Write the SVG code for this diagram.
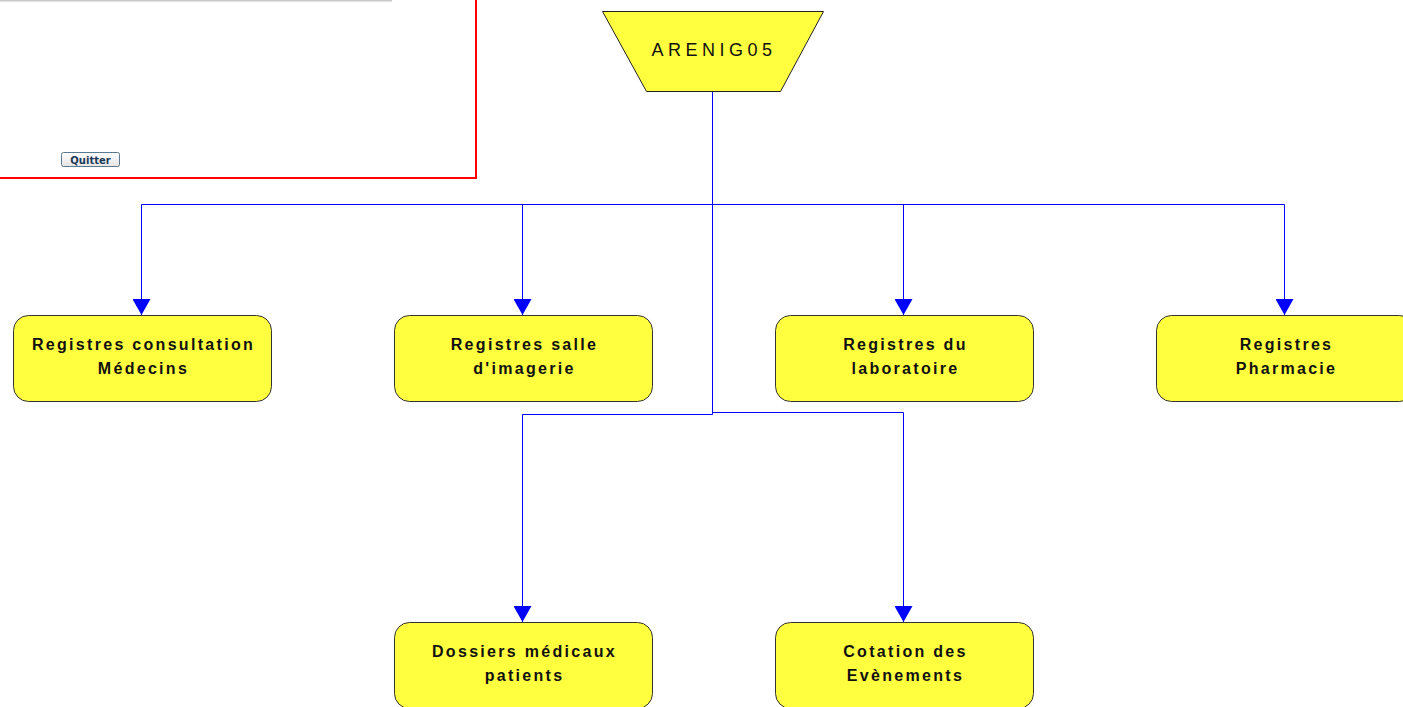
<svg xmlns="http://www.w3.org/2000/svg" width="1403" height="707" viewBox="0 0 1403 707">
<style>
.box{fill:#ffff40;stroke:#333;stroke-width:1}
.lbl{font-family:"Liberation Sans",Arial,sans-serif;font-weight:bold;font-size:16px;letter-spacing:2.3px;fill:#111;text-anchor:middle}
.conn{fill:none;stroke:#0000ff;stroke-width:1}
</style>
<defs>
<marker id="arr" viewBox="0 0 18 16" refX="9" refY="16" markerWidth="18" markerHeight="16" markerUnits="userSpaceOnUse" orient="0">
<path d="M0,0 L18,0 L9,16 Z" fill="#0000ff"/>
</marker>
<linearGradient id="btn" x1="0" y1="0" x2="0" y2="1">
<stop offset="0" stop-color="#ffffff"/>
<stop offset="1" stop-color="#e4e4e4"/>
</linearGradient>
</defs>
<rect width="1403" height="707" fill="#ffffff"/>
<g id="panel">
<line x1="0" y1="0.5" x2="392" y2="0.5" stroke="#c8c8c8" stroke-width="2"/>
<rect x="-10" y="-10" width="486" height="188" fill="none" stroke="#ff0000" stroke-width="2"/>
<rect x="61.5" y="152.5" width="58" height="14" rx="2" fill="url(#btn)" stroke="#5a7890" stroke-width="1"/>
<text x="90.5" y="163.5" font-family="DejaVu Sans,Verdana,sans-serif" font-weight="bold" font-size="10px" fill="#1c3a58" text-anchor="middle">Quitter</text>
</g>
<g id="connectors">
<path class="conn" d="M712.5,92 V204.5"/>
<path class="conn" d="M141.5,204.5 H1284.5"/>
<path class="conn" d="M141.5,204.5 V315" marker-end="url(#arr)"/>
<path class="conn" d="M522.5,204.5 V315" marker-end="url(#arr)"/>
<path class="conn" d="M903.5,204.5 V315" marker-end="url(#arr)"/>
<path class="conn" d="M1284.5,204.5 V315" marker-end="url(#arr)"/>
<path class="conn" d="M712.5,204.5 V414.5 H522.5 V622" marker-end="url(#arr)"/>
<path class="conn" d="M712.5,412.5 H903.5 V622" marker-end="url(#arr)"/>
</g>
<g id="arenig05">
<polygon points="602.5,11.5 823.5,11.5 780.5,91.5 646.5,91.5" fill="#ffff40" stroke="#222" stroke-width="1"/>
<text x="714" y="56" font-family="Liberation Sans,Arial,sans-serif" font-size="18px" letter-spacing="4.5px" fill="#111" text-anchor="middle">ARENIG05</text>
</g>
<g id="n-medecins">
<rect class="box" x="13.5" y="315.5" width="258" height="86" rx="15"/>
<text class="lbl" x="143.5" y="350">Registres consultation</text>
<text class="lbl" x="143.5" y="374">Médecins</text>
</g>
<g id="n-imagerie">
<rect class="box" x="394.5" y="315.5" width="258" height="86" rx="15"/>
<text class="lbl" x="524.5" y="350">Registres salle</text>
<text class="lbl" x="524.5" y="374">d'imagerie</text>
</g>
<g id="n-laboratoire">
<rect class="box" x="775.5" y="315.5" width="258" height="86" rx="15"/>
<text class="lbl" x="905.5" y="350">Registres du</text>
<text class="lbl" x="905.5" y="374">laboratoire</text>
</g>
<g id="n-pharmacie">
<rect class="box" x="1156.5" y="315.5" width="258" height="86" rx="15"/>
<text class="lbl" x="1286.5" y="350">Registres</text>
<text class="lbl" x="1286.5" y="374">Pharmacie</text>
</g>
<g id="n-dossiers">
<rect class="box" x="394.5" y="622.5" width="258" height="86" rx="15"/>
<text class="lbl" x="524.5" y="657">Dossiers médicaux</text>
<text class="lbl" x="524.5" y="681">patients</text>
</g>
<g id="n-cotation">
<rect class="box" x="775.5" y="622.5" width="258" height="86" rx="15"/>
<text class="lbl" x="905.5" y="657">Cotation des</text>
<text class="lbl" x="905.5" y="681">Evènements</text>
</g>
</svg>
